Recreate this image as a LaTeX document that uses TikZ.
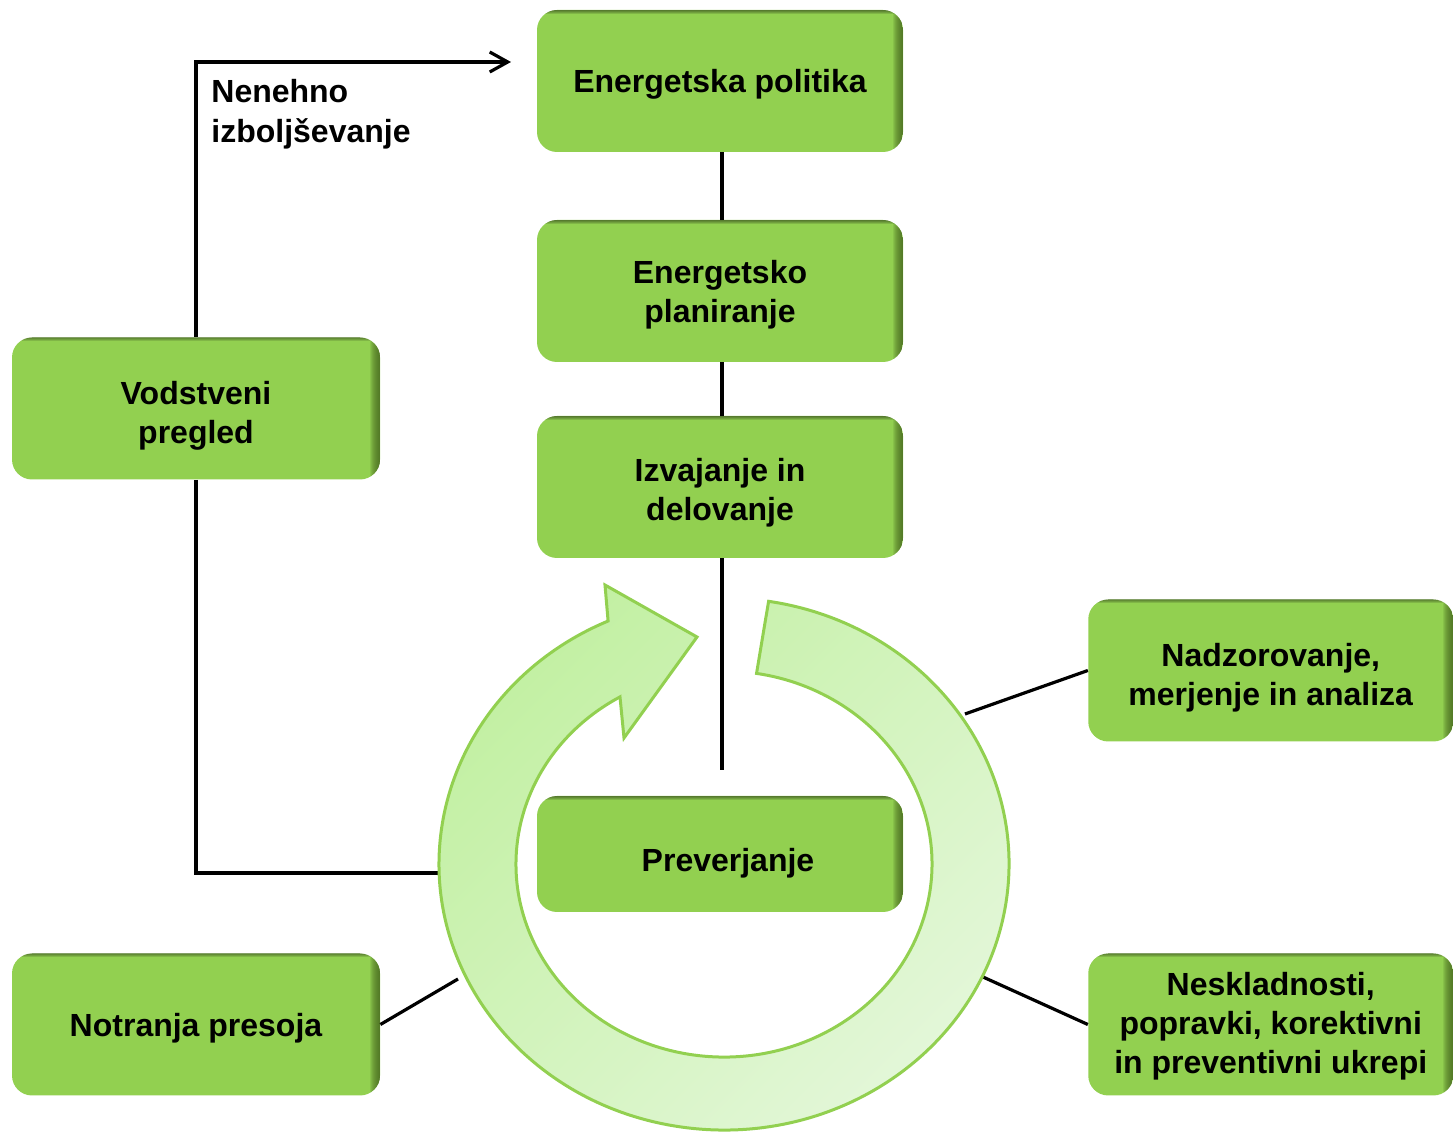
\documentclass[tikz,border=0pt]{standalone}
\usepackage{fontspec}
\setmainfont{Liberation Sans}
\usetikzlibrary{arrows.meta,calc}
\definecolor{boxg}{HTML}{92D050}
\definecolor{boxdark}{HTML}{46661F}
\definecolor{ringA}{HTML}{C2F0A2}
\definecolor{ringB}{HTML}{E4F7DA}
\definecolor{ringline}{HTML}{92D050}
\tikzset{
  gbox/.style={fill=boxg, rounded corners=10pt, minimum width=183pt, minimum height=71pt,
    align=center, text=black, inner sep=2pt, text depth=0pt,
    font=\bfseries\fontsize{16}{19.5}\selectfont,
    path picture={
      \foreach \i in {1,...,10}{
        \fill[sharp corners, boxdark, opacity=0.14]
          ([xshift=-\i*0.5pt]path picture bounding box.north east) rectangle (path picture bounding box.south east);
      }
      \foreach \i in {1,...,4}{
        \fill[sharp corners, black, opacity=0.12]
          (path picture bounding box.north west) rectangle ([yshift=-\i*0.5pt]path picture bounding box.north east);
      }
    }},
  conn/.style={line width=1.6pt, black},
  ringstyle/.style={draw=ringline, line width=1.5pt, top color=ringA, bottom color=ringB, shading angle=45},
  lbl/.style={font=\bfseries\fontsize{16}{20}\selectfont, align=left, inner sep=0pt, text=black}
}
\begin{document}
\begin{tikzpicture}[x=0.5pt, y=-0.5pt]
\useasboundingbox (0,0) rectangle (1453,1133);

% boxes
\node[gbox] (pol)  at (720,81)  {Energetska politika};
\node[gbox, text height=32pt] (plan) at (720,291) {Energetsko\\planiranje};
\node[gbox, text height=34pt] (izv)  at (720,487) {Izvajanje in\\delovanje};
\node[gbox, minimum height=58pt, text height=18pt] (prev) at (720,854) {\hspace*{8pt}Preverjanje};
\node[gbox, text height=35pt, minimum width=184pt] (vod)  at (196,408.5) {Vodstveni\\pregled};
\node[gbox, minimum width=184pt] (notr) at (196,1024.5) {Notranja presoja};
\node[gbox, text height=35pt, minimum width=182.5pt] (nadz) at (1270.75,670.5) {Nadzorovanje,\\merjenje in analiza};
\node[gbox, text depth=1.5pt, minimum width=182.5pt] (nesk) at (1270.75,1024.5) {Neskladnosti,\\popravki, korektivni\\in preventivni ukrepi};

% free ends
\coordinate (ktop) at (511,62);
\coordinate (izvend) at (722,770);
\coordinate (ringL) at (440,873);
\coordinate (notrE) at (458,979);
\coordinate (nadzE) at (965,714);
\coordinate (neskE) at (983,977);

% connectors
\draw[conn] ([xshift=1pt]pol.south) -- ([xshift=1pt]plan.north);
\draw[conn] ([xshift=1pt]plan.south) -- ([xshift=1pt]izv.north);
\draw[conn] ([xshift=1pt]izv.south) -- (izvend);
\draw[conn, -{Straight Barb[length=9pt,width=10pt,line width=1.6pt]}] (vod.north) |- (ktop);
\draw[conn] (vod.south) |- (ringL);
\draw[conn] (notr.east) -- (notrE);
\draw[conn] (nadz.west) -- (nadzE);
\draw[conn] (nesk.west) -- (neskE);

% circular arrow
\path[ringstyle] (768.6,601.3)
  arc[start angle=-81, end angle=246, x radius=285, y radius=266]
  -- (605,585) -- (697,637) -- (624,738) -- (620,696.9)
  arc[start angle=240, end angle=-81, x radius=208, y radius=193]
  -- cycle;

% label
\node[lbl, anchor=north west] (nen) at (211,79) {Nenehno\\izboljševanje};
\end{tikzpicture}
\end{document}
